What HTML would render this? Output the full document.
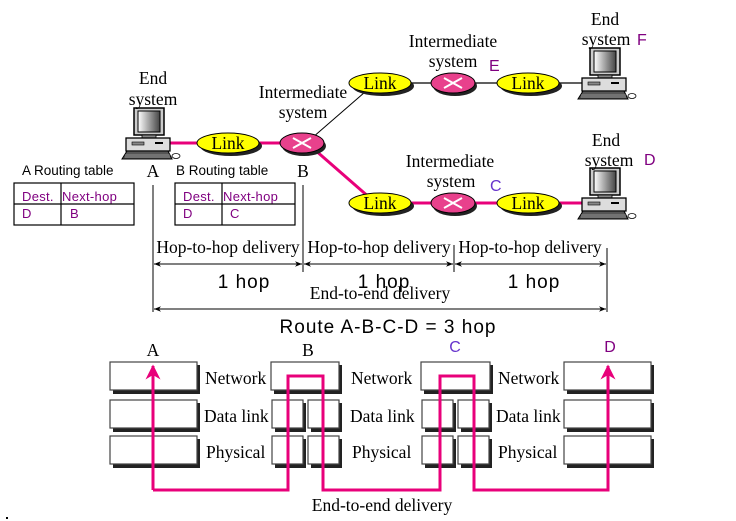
<!DOCTYPE html>
<html><head><meta charset="utf-8"><style>
body{margin:0;background:#fff}
svg{display:block}
.s{font-family:"Liberation Serif",serif;font-size:17.5px;fill:#000}
.ss{font-family:"Liberation Sans","NanumGothic",sans-serif}
</style></head><body>
<svg width="736" height="521" viewBox="0 0 736 521" xmlns="http://www.w3.org/2000/svg">
<defs>
<linearGradient id="scr" x1="0" x2="1"><stop offset="0" stop-color="#fff"/><stop offset="1" stop-color="#444"/></linearGradient>
<g id="pc">
 <rect x="12" y="-2" width="30" height="27" fill="#ccc" stroke="#000" stroke-width="1.5"/>
 <rect x="16" y="1" width="22" height="21" fill="url(#scr)" stroke="#000"/>
 <rect x="20" y="25" width="14" height="3" fill="#888" stroke="#000" stroke-width="0.8"/>
 <rect x="4" y="28" width="44" height="13" fill="#ddd" stroke="#000" stroke-width="1.3"/>
 <rect x="10" y="32" width="12" height="3" fill="#888" stroke="#000" stroke-width="0.6"/>
 <rect x="33" y="32" width="8" height="2" fill="#000"/>
 <polygon points="0,49 5,41 46,41 50,49" fill="#555" stroke="#000"/>
 <path d="M3,45 H48 M3,47 H48" stroke="#ccc" stroke-width="0.6"/>
 <ellipse cx="54" cy="46" rx="4" ry="2.5" fill="#fff" stroke="#000" stroke-width="0.8"/>
</g>
<g id="link">
 <ellipse cx="3" cy="3" rx="31" ry="10" fill="#222"/>
 <ellipse cx="0" cy="0" rx="31" ry="10" fill="#ffff00" stroke="#000" stroke-width="1"/>
 <text x="0" y="6" text-anchor="middle" class="s">Link</text>
</g>
<g id="rt">
 <ellipse cx="2" cy="3" rx="22" ry="10" fill="#222"/>
 <ellipse cx="0" cy="0" rx="22" ry="10" fill="#e8418c" stroke="#000"/>
 <path d="M-9,-5 L9,5 M-9,5 L9,-5" stroke="#fff" stroke-width="2"/>
</g>
<marker id="ar" viewBox="0 0 10 10" refX="10" refY="5" markerWidth="9" markerHeight="7" orient="auto-start-reverse"><path d="M0,1 L10,5 L0,9 L3,5z" fill="#000"/></marker>
<marker id="pa" viewBox="0 0 10 10" refX="9" refY="5" markerWidth="5" markerHeight="5" orient="auto"><path d="M0,0 L10,5 L0,10 L3,5z" fill="#e8007a"/></marker>
</defs>

<line x1="170" y1="143" x2="300" y2="143" stroke="#e8007a" stroke-width="3"/>
<line x1="312" y1="138" x2="365" y2="92" stroke="#000" stroke-width="1"/>
<line x1="315" y1="150" x2="370" y2="198" stroke="#e8007a" stroke-width="3"/>
<line x1="380" y1="83" x2="590" y2="83" stroke="#000" stroke-width="1.3"/>
<line x1="380" y1="203" x2="590" y2="203" stroke="#e8007a" stroke-width="3"/>

<use href="#pc" x="122" y="110"/>
<use href="#pc" x="578" y="50"/>
<use href="#pc" x="578" y="170"/>
<use href="#link" x="228" y="143"/>
<use href="#rt" x="302" y="143"/>
<use href="#link" x="380" y="83"/>
<use href="#rt" x="453" y="83"/>
<use href="#link" x="528" y="83"/>
<use href="#link" x="380" y="203"/>
<use href="#rt" x="453" y="203"/>
<use href="#link" x="528" y="203"/>

<text x="153" y="84" text-anchor="middle" class="s">End</text>
<text x="153" y="105" text-anchor="middle" class="s">system</text>
<text x="303" y="98" text-anchor="middle" class="s">Intermediate</text>
<text x="303" y="118" text-anchor="middle" class="s">system</text>
<text x="453" y="47" text-anchor="middle" class="s">Intermediate</text>
<text x="453" y="67" text-anchor="middle" class="s">system</text>
<text x="450" y="167" text-anchor="middle" class="s">Intermediate</text>
<text x="451" y="187" text-anchor="middle" class="s">system</text>
<text x="605" y="25" text-anchor="middle" class="s">End</text>
<text x="606" y="45" text-anchor="middle" class="s">system</text>
<text x="606" y="146" text-anchor="middle" class="s">End</text>
<text x="609" y="166" text-anchor="middle" class="s">system</text>
<text x="637" y="45" class="ss" font-size="16" fill="#800080">F</text>
<text x="489" y="71" class="ss" font-size="16" fill="#800080">E</text>
<text x="644" y="165" class="ss" font-size="16" fill="#800080">D</text>
<text x="490" y="191" class="ss" font-size="16" fill="#6633cc">C</text>
<text x="153" y="177" text-anchor="middle" class="s" font-size="19">A</text>
<text x="303" y="177" text-anchor="middle" class="s" font-size="19">B</text>

<text x="22" y="175" class="ss" font-size="13.5">A Routing table</text>
<text x="176" y="175" class="ss" font-size="13.5">B Routing table</text>
<g fill="none" stroke="#000" stroke-width="1.2">
<rect x="14" y="183" width="120" height="42"/><line x1="14" y1="204" x2="134" y2="204"/><line x1="61" y1="183" x2="61" y2="225"/>
<rect x="175" y="183" width="120" height="42"/><line x1="175" y1="204" x2="295" y2="204"/><line x1="222" y1="183" x2="222" y2="225"/>
</g>
<g class="ss" font-size="13" fill="#800080" letter-spacing="0.3">
<text x="22" y="201">Dest.</text><text x="62" y="201">Next-hop</text><text x="22" y="218">D</text><text x="70" y="218">B</text>
<text x="183" y="201">Dest.</text><text x="223" y="201">Next-hop</text><text x="183" y="218">D</text><text x="230" y="218">C</text>
</g>

<g stroke="#000" stroke-width="1">
<line x1="153" y1="185" x2="153" y2="312"/>
<line x1="303" y1="185" x2="303" y2="272"/>
<line x1="454" y1="245" x2="454" y2="272"/>
<line x1="607" y1="248" x2="607" y2="312"/>
<line x1="154" y1="264" x2="302" y2="264" marker-start="url(#ar)" marker-end="url(#ar)"/>
<line x1="304" y1="264" x2="453" y2="264" marker-start="url(#ar)" marker-end="url(#ar)"/>
<line x1="455" y1="264" x2="606" y2="264" marker-start="url(#ar)" marker-end="url(#ar)"/>
<line x1="154" y1="309" x2="606" y2="309" marker-start="url(#ar)" marker-end="url(#ar)"/>
</g>
<text x="228" y="253" text-anchor="middle" class="s">Hop-to-hop delivery</text>
<text x="379" y="253" text-anchor="middle" class="s">Hop-to-hop delivery</text>
<text x="530" y="253" text-anchor="middle" class="s">Hop-to-hop delivery</text>
<g class="ss" font-size="19" fill="#000" text-anchor="middle" letter-spacing="1">
<text x="244" y="288">1 hop</text><text x="384" y="288">1 hop</text><text x="534" y="288">1 hop</text>
<text x="388" y="333">Route A-B-C-D = 3 hop</text>
</g>
<text x="380" y="299" text-anchor="middle" class="s">End-to-end delivery</text>

<g fill="#222">
<rect x="113" y="365" width="87" height="29"/><rect x="113" y="403" width="87" height="29"/><rect x="113" y="439" width="87" height="29"/>
<rect x="274" y="365" width="68" height="29"/><rect x="275" y="403" width="31" height="29"/><rect x="311" y="403" width="31" height="29"/><rect x="275" y="439" width="31" height="29"/><rect x="311" y="439" width="31" height="29"/>
<rect x="424" y="365" width="69" height="29"/><rect x="425" y="403" width="31" height="29"/><rect x="461" y="403" width="31" height="29"/><rect x="425" y="439" width="31" height="29"/><rect x="461" y="439" width="31" height="29"/>
<rect x="567" y="365" width="87" height="29"/><rect x="567" y="403" width="87" height="29"/><rect x="567" y="439" width="87" height="29"/>
</g>
<g fill="#fff" stroke="#444" stroke-width="1.2">
<rect x="110" y="362" width="87" height="28"/><rect x="110" y="400" width="87" height="28"/><rect x="110" y="436" width="87" height="28"/>
<rect x="271" y="362" width="68" height="28"/><rect x="272" y="400" width="31" height="28"/><rect x="308" y="400" width="31" height="28"/><rect x="272" y="436" width="31" height="28"/><rect x="308" y="436" width="31" height="28"/>
<rect x="421" y="362" width="69" height="28"/><rect x="422" y="400" width="31" height="28"/><rect x="458" y="400" width="31" height="28"/><rect x="422" y="436" width="31" height="28"/><rect x="458" y="436" width="31" height="28"/>
<rect x="564" y="362" width="87" height="28"/><rect x="564" y="400" width="87" height="28"/><rect x="564" y="436" width="87" height="28"/>
</g>
<g class="s">
<text x="205" y="384">Network</text><text x="204" y="422">Data link</text><text x="206" y="458">Physical</text>
<text x="351" y="384">Network</text><text x="350" y="422">Data link</text><text x="352" y="458">Physical</text>
<text x="498" y="384">Network</text><text x="496" y="422">Data link</text><text x="498" y="458">Physical</text>
</g>
<text x="153" y="356" text-anchor="middle" class="s">A</text>
<text x="308" y="356" text-anchor="middle" class="s">B</text>
<text x="455" y="352" text-anchor="middle" class="ss" font-size="16" fill="#6633cc">C</text>
<text x="610" y="352" text-anchor="middle" class="ss" font-size="16" fill="#800080">D</text>

<path d="M153,490 V366" stroke="#e8007a" stroke-width="3" fill="none" marker-end="url(#pa)"/>
<path d="M153,490 H288 V376 H323 V490 H440 V376 H474 V490 H608 V370" stroke="#e8007a" stroke-width="3" fill="none"/>
<path d="M608,372 V366" stroke="#e8007a" stroke-width="3" fill="none" marker-end="url(#pa)"/>
<text x="382" y="511" text-anchor="middle" class="s">End-to-end delivery</text>
<rect x="6" y="517" width="2" height="2" fill="#000"/>
</svg>
</body></html>
